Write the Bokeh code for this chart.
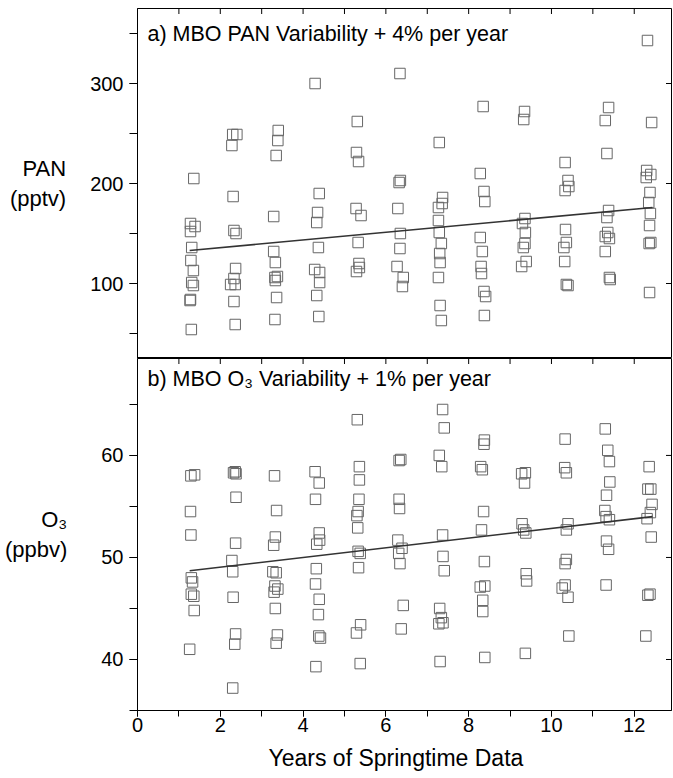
import math
from bokeh.plotting import figure
from bokeh.models import SingleIntervalTicker, Label, Range1d, ColumnDataSource, Title
from bokeh.layouts import column
from bokeh.embed import file_html
from bokeh.resources import INLINE

FONT = "Liberation Sans"

# ---------------- data ----------------
pan_x = [1.36, 1.28, 1.39, 1.28, 1.31, 1.29, 1.35, 1.31, 1.35, 1.27, 1.28, 1.30,
         2.28, 2.30, 2.40, 2.31, 2.33, 2.38, 2.37, 2.33, 2.25, 2.36, 2.33, 2.36,
         3.40, 3.39, 3.35, 3.29, 3.29, 3.33, 3.32, 3.38, 3.33, 3.36, 3.32,
         4.29, 4.39, 4.35, 4.33, 4.37, 4.28, 4.40, 4.40, 4.33, 4.38,
         5.31, 5.29, 5.34, 5.28, 5.40, 5.33, 5.35, 5.29, 5.36,
         6.34, 6.35, 6.32, 6.29, 6.35, 6.34, 6.27, 6.42, 6.40,
         7.29, 7.37, 7.36, 7.27, 7.27, 7.29, 7.34, 7.30, 7.31, 7.27, 7.31, 7.34,
         8.35, 8.28, 8.37, 8.39, 8.28, 8.33, 8.30, 8.31, 8.37, 8.41, 8.38,
         9.35, 9.33, 9.36, 9.30, 9.37, 9.36, 9.32, 9.39, 9.28,
         10.33, 10.40, 10.42, 10.33, 10.34, 10.36, 10.30, 10.32, 10.40, 10.36,
         11.38, 11.30, 11.34, 11.38, 11.34, 11.36, 11.40, 11.30, 11.30, 11.40, 11.42,
         12.32, 12.42, 12.30, 12.40, 12.29, 12.38, 12.35, 12.39, 12.37, 12.36, 12.40, 12.37]
pan_y = [205, 160, 157, 152, 136, 123, 113, 101, 98, 83, 84, 54,
         238, 249, 249, 187, 153, 150, 115, 105, 99, 99, 82, 59,
         253, 243, 228, 167, 132, 121, 106, 107, 103, 86, 64,
         300, 190, 171, 161, 136, 114, 111, 101, 88, 67,
         262, 231, 222, 175, 168, 141, 120, 112, 116,
         310, 203, 201, 175, 150, 135, 117, 106, 97,
         241, 186, 180, 176, 163, 151, 140, 130, 121, 106, 78, 63,
         277, 210, 192, 182, 146, 132, 117, 110, 92, 87, 68,
         272, 264, 165, 160, 151, 140, 136, 122, 117,
         221, 203, 197, 193, 154, 141, 136, 122, 98, 99,
         276, 263, 230, 173, 166, 151, 145, 147, 132, 106, 104,
         343, 261, 213, 209, 206, 191, 181, 170, 158, 140, 141, 91]

o3_x = [1.29, 1.38, 1.28, 1.29, 1.30, 1.33, 1.30, 1.36, 1.37, 1.26,
        2.32, 2.36, 2.38, 2.38, 2.37, 2.28, 2.30, 2.31, 2.37, 2.35, 2.30,
        3.31, 3.36, 3.33, 3.29, 3.35, 3.27, 3.32, 3.39, 3.30, 3.33, 3.38, 3.35,
        4.29, 4.39, 4.30, 4.39, 4.40, 4.33, 4.32, 4.30, 4.39, 4.37, 4.38, 4.42, 4.31,
        5.31, 5.36, 5.36, 5.35, 5.33, 5.30, 5.32, 5.38, 5.33, 5.34, 5.39, 5.29, 5.38,
        6.32, 6.36, 6.32, 6.33, 6.29, 6.39, 6.31, 6.34, 6.42, 6.37,
        7.37, 7.41, 7.29, 7.35, 7.37, 7.38, 7.41, 7.30, 7.34, 7.38, 7.28, 7.31,
        8.38, 8.37, 8.29, 8.33, 8.36, 8.31, 8.38, 8.28, 8.39, 8.34, 8.34, 8.39,
        9.28, 9.37, 9.35, 9.29, 9.38, 9.33, 9.39, 9.40, 9.37,
        10.33, 10.32, 10.36, 10.40, 10.36, 10.36, 10.33, 10.33, 10.26, 10.40, 10.42,
        11.30, 11.36, 11.40, 11.41, 11.33, 11.29, 11.32, 11.40, 11.33, 11.38, 11.32,
        12.36, 12.33, 12.40, 12.43, 12.39, 12.31, 12.41, 12.33, 12.38, 12.28]
o3_y = [58.0, 58.1, 54.5, 52.2, 48.0, 47.6, 46.4, 46.2, 44.8, 41.0,
        58.3, 58.4, 58.2, 55.9, 51.4, 49.7, 48.6, 46.1, 42.5, 41.5, 37.2,
        58.0, 54.6, 52.0, 51.2, 48.5, 48.6, 47.2, 46.9, 46.6, 45.0, 42.4, 41.6,
        58.4, 57.3, 55.7, 52.4, 51.7, 51.3, 48.9, 47.4, 45.9, 44.4, 42.3, 42.1, 39.3,
        63.5, 58.9, 57.6, 55.7, 54.5, 54.1, 52.9, 50.4, 50.6, 49.0, 43.4, 42.6, 39.6,
        59.5, 59.6, 55.7, 54.8, 51.7, 50.9, 50.4, 49.4, 45.3, 43.0,
        64.5, 62.7, 60.0, 58.9, 52.2, 50.1, 48.7, 45.0, 44.1, 43.6, 43.5, 39.8,
        61.5, 61.1, 58.9, 58.6, 54.5, 52.7, 49.6, 47.1, 47.2, 45.8, 44.7, 40.2,
        58.2, 58.3, 57.3, 53.3, 52.4, 52.7, 48.4, 47.7, 40.6,
        61.6, 58.8, 58.3, 53.3, 52.7, 49.8, 49.4, 47.3, 47.0, 46.1, 42.3,
        62.6, 60.5, 59.4, 57.4, 56.1, 54.6, 54.0, 53.7, 51.6, 50.8, 47.3,
        58.9, 56.7, 56.7, 55.2, 54.4, 53.8, 52.0, 46.3, 46.4, 42.3]

# fitted trend lines (end points)
pan_fit_x = [1.26, 12.44]
pan_fit_y = [133, 176]
o3_fit_x = [1.26, 12.44]
o3_fit_y = [48.7, 54.0]

# tick values of the mirrored (top / right) ticks
x_ticks_minor = [1, 2, 3, 4, 5, 6, 7, 8, 9, 10, 11, 12]
pan_major_ticks = [100, 200, 300]
o3_major_ticks = [40, 50, 60]

pan_title = "a) MBO PAN Variability + 4% per year"
o3_title = "b) MBO O\u2083 Variability + 1% per year"
pan_ylabel = "PAN\n(pptv)"
o3_ylabel = "O\u2083\n(ppbv)"
x_title = "Years of Springtime Data"

MARK = "#666666"
LINE = "#333333"

X_END = 12.9
x_range = Range1d(0, X_END)
W = 672


def style_common(p):
    p.outline_line_color = "black"
    p.outline_line_width = 1
    p.xgrid.visible = False
    p.ygrid.visible = False
    p.background_fill_color = "white"
    p.border_fill_color = "white"


def mirror_ticks(p, y_top, y_ticks):
    # inward ticks on the top and right frame edges (outer half is clipped by the frame)
    p.scatter(x_ticks_minor, [y_top] * len(x_ticks_minor), marker="dash", size=11,
              angle=math.pi / 2, line_color="black", line_width=1)
    p.scatter([X_END] * len(y_ticks), y_ticks, marker="dash", size=11,
              line_color="black", line_width=1)


def style_left(ax, label, standoff):
    ax.axis_label = label
    ax.axis_label_orientation = "horizontal"
    ax.axis_label_text_font = FONT
    ax.axis_label_text_font_size = "22px"
    ax.axis_label_text_font_style = "normal"
    ax.axis_label_text_color = "black"
    ax.axis_label_standoff = standoff
    ax.major_label_text_font = FONT
    ax.major_label_text_font_size = "20px"
    ax.major_label_text_color = "black"
    ax.major_label_standoff = 6
    ax.major_tick_out = 8
    ax.major_tick_in = 0
    ax.minor_tick_out = 8
    ax.minor_tick_in = 0
    ax.axis_line_color = "black"
    ax.major_tick_line_color = "black"
    ax.minor_tick_line_color = "black"


# ---------------- top panel (PAN) ----------------
p1 = figure(width=W, height=358, x_range=x_range, y_range=Range1d(25, 375),
            x_axis_location=None, output_backend="svg", toolbar_location=None,
            min_border_left=137, min_border_right=1, min_border_top=8, min_border_bottom=0)
style_common(p1)
p1.yaxis.ticker = SingleIntervalTicker(interval=100, num_minor_ticks=2)
style_left(p1.yaxis[0], pan_ylabel, 21)
mirror_ticks(p1, 375, pan_major_ticks)

src1 = ColumnDataSource(dict(x=pan_x, y=pan_y))
p1.scatter("x", "y", source=src1, marker="square", size=10.5, fill_color=None,
           line_color=MARK, line_width=1)
p1.line(pan_fit_x, pan_fit_y, line_color=LINE, line_width=1.6)
p1.add_layout(Label(x=0.24, y=350, text=pan_title, text_font=FONT, text_font_size="21.5px",
                    text_baseline="middle", text_color="black"))

# ---------------- bottom panel (O3) ----------------
p2 = figure(width=W, height=420, x_range=x_range, y_range=Range1d(35, 69.5),
            output_backend="svg", toolbar_location=None,
            min_border_left=137, min_border_right=1, min_border_top=0, min_border_bottom=67)
style_common(p2)
p2.yaxis.ticker = SingleIntervalTicker(interval=10, num_minor_ticks=2)
style_left(p2.yaxis[0], o3_ylabel, 31)

xa = p2.below[0]
xa.ticker = SingleIntervalTicker(interval=2, num_minor_ticks=2)
xa.major_label_text_font = FONT
xa.major_label_text_font_size = "20px"
xa.major_label_text_color = "black"
xa.major_label_standoff = 1
xa.major_tick_out = 6
xa.major_tick_in = 0
xa.minor_tick_out = 6
xa.minor_tick_in = 0
xa.axis_line_color = "black"
xa.major_tick_line_color = "black"
xa.minor_tick_line_color = "black"

mirror_ticks(p2, 69.5, o3_major_ticks)

src2 = ColumnDataSource(dict(x=o3_x, y=o3_y))
p2.scatter("x", "y", source=src2, marker="square", size=10.5, fill_color=None,
           line_color=MARK, line_width=1)
p2.line(o3_fit_x, o3_fit_y, line_color=LINE, line_width=1.6)
p2.add_layout(Label(x=0.24, y=67.5, text=o3_title, text_font=FONT, text_font_size="21.5px",
                    text_baseline="middle", text_color="black"))

# x-axis title as a bottom title, left aligned with an offset so it sits where the original has it
p2.add_layout(Title(text=x_title, align="left", offset=131, standoff=16,
                    text_font=FONT, text_font_size="23px", text_font_style="normal",
                    text_color="black"), "below")

layout = column(p1, p2, spacing=0)
open("out.html", "w").write(file_html(layout, INLINE))
